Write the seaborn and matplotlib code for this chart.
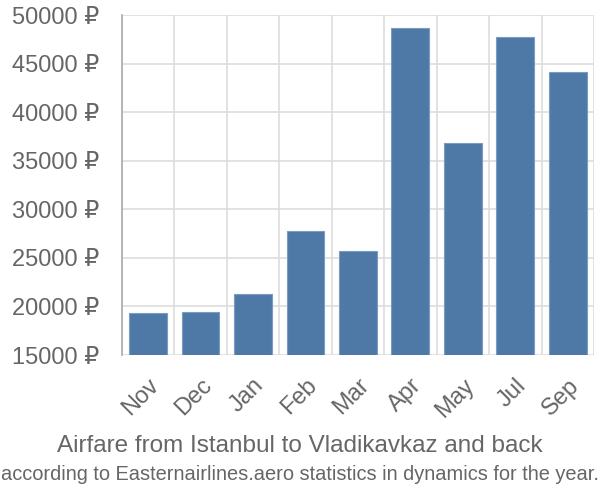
import numpy as np
import pandas as pd
import matplotlib
matplotlib.use("Agg")
import matplotlib.pyplot as plt
import seaborn as sns

# Monthly airfare values (RUB)
MONTHS = ["Nov", "Dec", "Jan", "Feb", "Mar", "Apr", "May", "Jul", "Sep"]
PRICES = [19300, 19400, 21300, 27800, 25700, 48700, 36800, 47700, 44100]
Y_TICKS = [15000, 20000, 25000, 30000, 35000, 40000, 45000, 50000]

TITLE = "Airfare from Istanbul to Vladikavkaz and back"
SUBTITLE = "according to Easternairlines.aero statistics in dynamics for the year."

BAR_COLOR = "#4e79a7"
GRID_COLOR = "#dddddd"
TEXT_COLOR = "#666666"

sns.set_theme(style="white")
plt.rcParams["font.family"] = ["Liberation Sans", "DejaVu Sans"]

df = pd.DataFrame({"month": MONTHS, "price": PRICES})

fig = plt.figure(figsize=(6, 5), dpi=100)
ax = fig.add_axes([0.203, 0.29, 0.787, 0.68])

sns.barplot(data=df, x="month", y="price", color=BAR_COLOR, width=0.72,
            edgecolor="#7a9cc2", linewidth=0.8, saturation=1, ax=ax, zorder=3)

ax.set_ylim(15000, 50000)
ax.set_xlim(-0.5, len(MONTHS) - 0.5)
ax.set_yticks(Y_TICKS)
ax.set_yticklabels([f"{v} ₽" for v in Y_TICKS])
ax.set_xticks(np.arange(len(MONTHS)))
ax.set_xticklabels(MONTHS, rotation=45, ha="right", rotation_mode="anchor")
ax.set_xticks(np.arange(-0.5, len(MONTHS)), minor=True)

ax.grid(axis="y", which="major", color=GRID_COLOR, linewidth=1.2, zorder=0)
ax.grid(axis="x", which="minor", color=GRID_COLOR, linewidth=1.2, zorder=0)
ax.grid(axis="x", which="major", visible=False)

ax.tick_params(axis="y", which="major", length=15, width=1.2, color=GRID_COLOR,
               pad=1, labelsize=17, labelcolor=TEXT_COLOR)
ax.tick_params(axis="x", which="major", length=0, pad=14, labelsize=17,
               labelcolor=TEXT_COLOR)
ax.tick_params(axis="x", which="minor", length=14, width=1.2, color=GRID_COLOR)

for side in ["top", "right", "bottom"]:
    ax.spines[side].set_visible(False)
ax.spines["left"].set_color("#aaaaaa")
ax.spines["left"].set_linewidth(1.2)
ax.set_xlabel("")
ax.set_ylabel("")

fig.text(0.5, 0.107, TITLE, ha="center", va="center", fontsize=17.5, color=TEXT_COLOR)
fig.text(0.5, 0.05, SUBTITLE, ha="center", va="center", fontsize=14.4, color=TEXT_COLOR)

fig.savefig("out.png", dpi=100)
